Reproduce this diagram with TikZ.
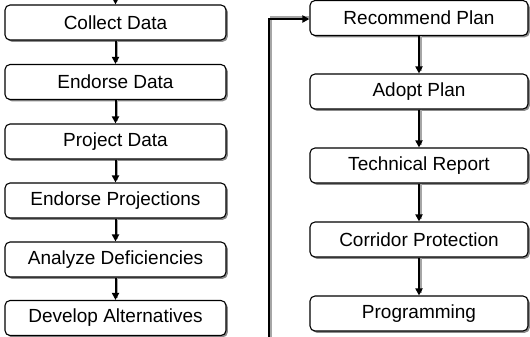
\documentclass[tikz,border=0pt]{standalone}
\usepackage{fontspec}
\setmainfont{Liberation Sans}
\usetikzlibrary{arrows.meta,shadows}
\begin{document}
\begin{tikzpicture}[x=1pt,y=-1pt,
  box/.style={draw=black, line width=1.1pt, rounded corners=5pt, fill=white,
    inner sep=0pt, font=\fontsize{19}{21}\selectfont,
    drop shadow={shadow xshift=1.8pt, shadow yshift=-1.8pt, fill=black!45, opacity=1}},
  lbox/.style={box, minimum width=221pt, minimum height=35pt},
  rbox/.style={box, minimum width=218pt, minimum height=35pt},
  arr/.style={line width=2pt, -{Triangle[length=7pt,width=7pt]}},
  shd/.style={line width=2pt, draw=black!35}]
\useasboundingbox (0,0) rectangle (530,337);
% left column
\node[lbox] (a1) at (115.5,22.5) {Collect Data};
\node[lbox] (a2) at (115.5,82) {Endorse Data};
\node[lbox] (a3) at (115.5,141.5) {Project Data};
\node[lbox] (a4) at (115.5,200.5) {Endorse Projections};
\node[lbox] (a5) at (115.5,259.5) {Analyze Deficiencies};
\node[lbox] (a6) at (115.5,318) {Develop Alternatives};
% right column
\node[rbox] (b1) at (419,18) {Recommend Plan};
\node[rbox] (b2) at (419,91.5) {Adopt Plan};
\node[rbox] (b3) at (419,165.5) {Technical Report};
\node[rbox] (b4) at (419,239.5) {Corridor Protection};
\node[rbox] (b5) at (419,313.5) {Programming};
% connectors
\coordinate (top) at (115.5,-2);
\coordinate (bot) at (269,340);
\coordinate (corner) at (269,19);
\draw[arr] (top) -- (a1.north);
\foreach \p/\q in {a1/a2,a2/a3,a3/a4,a4/a5,a5/a6,b1/b2,b2/b3,b3/b4,b4/b5}{
  \draw[shd] ([xshift=1.5pt]\p.south) -- ([xshift=1.5pt,yshift=2pt]\q.north);
  \draw[arr] (\p.south) -- (\q.north);
}
\draw[shd] ([xshift=1.5pt]bot) -- ([xshift=1.5pt,yshift=1.5pt]corner) -- ([yshift=1.5pt]b1.west |- corner);
\draw[arr] (bot) -- (corner) -- (b1.west |- corner);
\end{tikzpicture}
\end{document}
